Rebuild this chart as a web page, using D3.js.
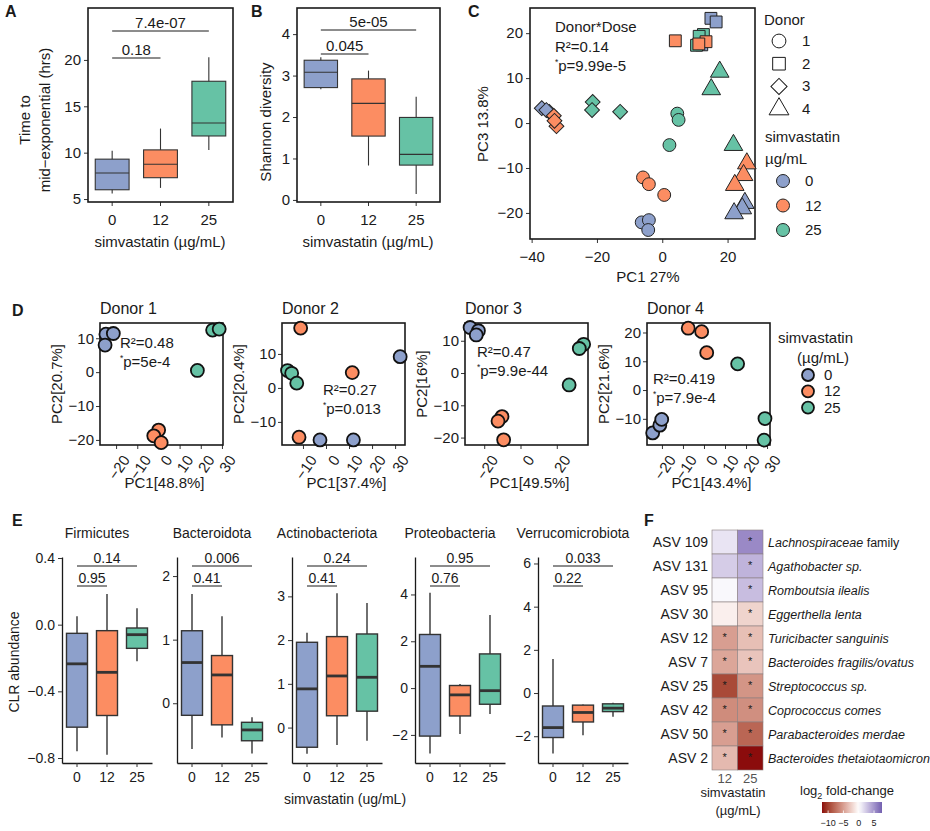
<!DOCTYPE html>
<html>
<head>
<meta charset="utf-8">
<script src="https://cdn.jsdelivr.net/npm/d3@7"></script>
<style>
    body { margin: 0; background: #fff; }
    svg text { font-family: "Liberation Sans", Arial, Helvetica, sans-serif; fill: #1a1a1a; }
</style>
</head>
<body>
<svg id="fig" width="930" height="831"></svg>
<script>
// ---------- data ----------
const doses = ['0', '12', '25'];
const doseColors = ['#8da0cb', '#fc8d62', '#66c2a5'];

// A: time to mid-exponential, [min, q1, median, q3, max] per dose
const midExpStats = [[5.6, 6.0, 7.8, 9.3, 10.2], [6.2, 7.3, 8.75, 10.3, 12.6], [10.3, 11.8, 13.2, 17.7, 20.3]];
const midExpTicks = [5, 10, 15, 20];
const midExpP = ['0.18', '7.4e-07'];

// B: Shannon diversity
const shannonStats = [[2.67, 2.71, 3.08, 3.37, 3.44], [0.83, 1.54, 2.33, 2.92, 3.12], [0.14, 0.84, 1.1, 1.99, 2.49]];
const shannonTicks = [0, 1, 2, 3, 4];
const shannonP = ['0.045', '5e-05'];

// C: PCA of all samples, [donor, dose index, PC1, PC3]
const pcaPoints = [
    [1, 0, -6.3, -22.1], [1, 0, -4.1, -21.6], [1, 0, -4.3, -23.8],
    [1, 1, -5.9, -12.1], [1, 1, -4.1, -13.6], [1, 1, 0.6, -16],
    [1, 2, 4.6, 2.1], [1, 2, 5, 0.7], [1, 2, 2.2, -4.9],
    [2, 0, 14.9, 23.3], [2, 0, 16.5, 22.5], [2, 0, 12.1, 17.4],
    [2, 2, 12.6, 19.7], [2, 2, 11.3, 19.3], [2, 2, 10.5, 17.3],
    [2, 1, 4.0, 18.3], [2, 1, 13.4, 18.1], [2, 1, 11.2, 17.6],
    [3, 0, -36.9, 3.3], [3, 0, -34.6, 2.5], [3, 0, -35.5, 2.9],
    [3, 1, -33.2, 1.6], [3, 1, -32.4, -0.7], [3, 1, -33, 0.5],
    [3, 2, -21.3, 4.7], [3, 2, -21.5, 2.9], [3, 2, -12.9, 2.5],
    [4, 0, 25.3, -17.8], [4, 0, 24.5, -19], [4, 0, 22, -20.1],
    [4, 1, 25.9, -9], [4, 1, 24.9, -11.6], [4, 1, 22.2, -13.8],
    [4, 2, 17.6, 11.4], [4, 2, 15, 7.5], [4, 2, 21.8, -4.9]
];
const pcaXTicks = [-40, -20, 0, 20];
const pcaYTicks = [-20, -10, 0, 10, 20];

// D: per-donor PCA, three samples per dose (0, 12, 25)
const donorDose = [0, 0, 0, 1, 1, 1, 2, 2, 2];
const donorPC1 = [
    [-24.8, -21.3, -25.2, 0.1, -2.2, 1.3, 25.6, 28.7, 18.4],
    [32.2, -2.6, 11.9, -11, 11.4, -11.7, -16.7, -14.9, -12.7],
    [-27.8, -23.2, -24.4, -10.2, -12.4, -9.3, 34.8, 32.4, 26.8],
    [-24.4, -21, -20.1, -7.5, -1.1, 1.3, 16, 29, 28.6]
];
const donorPC2 = [
    [11.2, 11.4, 8.0, -17.1, -18.8, -20.8, 12.4, 12.7, 0.5],
    [9.2, -15.3, -15.3, 17.6, 4.5, -14.5, 5.1, 4.3, 1.4],
    [14.1, 13.1, 11.8, -13.5, -14.9, -20.7, 8.9, 7.6, -3.7],
    [-14.9, -12.2, -10.2, 21.5, 20.3, 13.0, 9.1, -9.9, -17.4]
];
const donorXTicks = [[-20, -10, 0, 10, 20, 30], [-10, 0, 10, 20, 30], [-20, 0, 20], [-20, -10, 0, 10, 20, 30]];
const donorYTicks = [[-20, -10, 0, 10], [-10, 0, 10], [-20, -10, 0, 10], [-10, 0, 10, 20]];
const donorPC1Label = ['PC1[48.8%]', 'PC1[37.4%]', 'PC1[49.5%]', 'PC1[43.4%]'];
const donorPC2Label = ['PC2[20.7%]', 'PC2[20.4%]', 'PC2[16%]', 'PC2[21.6%]'];
const donorR2 = ['0.48', '0.27', '0.47', '0.419'];
const donorPval = ['5e-4', '0.013', '9.9e-44', '7.9e-4'];

// E: CLR abundance per phylum, [min, q1, median, q3, max] per dose
const phyla = ['Firmicutes', 'Bacteroidota', 'Actinobacteriota', 'Proteobacteria', 'Verrucomicrobiota'];
const clrStats = [
    [[-0.76, -0.615, -0.235, -0.052, 0.05], [-0.78, -0.545, -0.286, -0.036, 0.184], [-0.22, -0.142, -0.06, -0.02, 0.098]],
    [[-0.72, -0.19, 0.64, 1.14, 1.72], [-0.54, -0.34, 0.445, 0.75, 1.37], [-0.79, -0.59, -0.42, -0.3, -0.22]],
    [[-0.6, -0.45, 0.885, 1.95, 2.17], [-0.4, 0.27, 1.18, 2.08, 3.07], [-0.3, 0.375, 1.15, 2.14, 2.85]],
    [[-2.79, -2.05, 0.93, 2.29, 4.07], [-1.96, -1.19, -0.29, 0.11, 0.17], [-1.11, -0.69, -0.11, 1.46, 3.12]],
    [[-2.8, -2.06, -1.6, -0.6, 1.58], [-1.95, -1.34, -0.9, -0.56, -0.53], [-1.1, -0.86, -0.7, -0.5, -0.45]]
];
const clrTicks = [[-0.8, -0.4, 0, 0.4], [0, 1, 2], [0, 1, 2, 3], [-2, 0, 2, 4], [-2, 0, 2, 4, 6]];
const clrP = [['0.95', '0.14'], ['0.41', '0.006'], ['0.41', '0.24'], ['0.76', '0.95'], ['0.22', '0.033']];

// F: log2 fold-change heatmap
const asvIds = ['ASV 109', 'ASV 131', 'ASV 95', 'ASV 30', 'ASV 12', 'ASV 7', 'ASV 25', 'ASV 42', 'ASV 50', 'ASV 2'];
const asvTaxa = ['Lachnospiraceae', 'Agathobacter sp.', 'Romboutsia ilealis', 'Eggerthella lenta', 'Turicibacter sanguinis',
    'Bacteroides fragilis/ovatus', 'Streptococcus sp.', 'Coprococcus comes', 'Parabacteroides merdae', 'Bacteroides thetaiotaomicron'];
const asvTaxaSuffix = [' family', '', '', '', '', '', '', '', '', ''];
const lfcDoses = ['12', '25'];
const lfc12 = [1.2, 2.3, 0.3, -0.8, -5, -4.6, -9.5, -6, -5, -3.6];
const lfc25 = [5.5, 3.5, 3.0, -2.2, -3.3, -3, -5.5, -5.8, -8, -12];
const sig12 = [0, 0, 0, 0, 1, 1, 1, 1, 1, 1];
const sig25 = [1, 1, 1, 1, 1, 1, 1, 1, 1, 1];
const lfcTicks = [-10, -5, 0, 5];

// ---------- drawing ----------
const svg = d3.select('#fig');
const FONT = '"Liberation Sans", Arial, Helvetica, sans-serif';
const INK = '#1a1a1a';

function panelLabel(t, x, y) {
    svg.append('text').attr('x', x).attr('y', y).attr('font-size', 16).attr('font-weight', 'bold').text(t);
}

function styleAxis(g, fs) {
    g.attr('font-size', fs).attr('font-family', FONT).attr('color', INK);
    g.selectAll('text').style('fill', INK);
    g.selectAll('.tick line').attr('stroke', '#333');
}

function pText(g, x, y, fs, pval) {
    // "*p=..." with a small raised asterisk
    const t = g.append('text').attr('x', x).attr('y', y).attr('font-size', fs);
    t.append('tspan').attr('font-size', fs * 0.55).attr('dy', -fs * 0.4).text('*');
    t.append('tspan').attr('dy', fs * 0.4).text('p=' + pval);
}

// box plot panel used by A, B and E
function boxPanel(o) {
    const x = d3.scaleBand().domain(doses).range([o.x0, o.x1]);
    const y = d3.scaleLinear().domain(o.yDomain).range([o.y1, o.y0]);
    const cx = i => x(doses[i]) + x.bandwidth() / 2;
    const bw = x.bandwidth() * 0.7;
    const g = svg.append('g');

    // axes first so boxes sit on top
    const yAxis = d3.axisLeft(y).tickValues(o.ticks).tickSize(4).tickSizeOuter(0).tickPadding(3)
        .tickFormat(o.fmt || d3.format('d'));
    const yg = g.append('g').attr('transform', `translate(${o.x0},0)`).call(yAxis);
    const xg = g.append('g').attr('transform', `translate(0,${o.y1})`)
        .call(d3.axisBottom(x).tickSize(4).tickSizeOuter(0).tickPadding(o.xPad));
    styleAxis(yg, o.fs);
    styleAxis(xg, o.fs);
    if (o.frame) {
        yg.select('.domain').remove();
        xg.select('.domain').remove();
        g.append('rect').attr('x', o.x0).attr('y', o.y0).attr('width', o.x1 - o.x0).attr('height', o.y1 - o.y0)
            .attr('fill', 'none').attr('stroke', INK).attr('stroke-width', 1.6);
    } else {
        yg.select('.domain').attr('stroke', INK).attr('stroke-width', 1.3);
        xg.select('.domain').attr('stroke', INK).attr('stroke-width', 1.3);
    }

    g.selectAll('.whisker').data(o.stats).join('line')
        .attr('x1', (d, i) => cx(i)).attr('x2', (d, i) => cx(i))
        .attr('y1', d => y(d[0])).attr('y2', d => y(d[4]))
        .attr('stroke', '#333').attr('stroke-width', o.lw);
    g.selectAll('.box').data(o.stats).join('rect')
        .attr('x', (d, i) => cx(i) - bw / 2).attr('width', bw)
        .attr('y', d => y(d[3])).attr('height', d => y(d[1]) - y(d[3]))
        .attr('fill', (d, i) => doseColors[i]).attr('stroke', '#333').attr('stroke-width', o.lw);
    g.selectAll('.median').data(o.stats).join('line')
        .attr('x1', (d, i) => cx(i) - bw / 2).attr('x2', (d, i) => cx(i) + bw / 2)
        .attr('y1', d => y(d[2])).attr('y2', d => y(d[2]))
        .attr('stroke', '#333').attr('stroke-width', o.mw);

    // significance bars: first 0 vs 12, then 0 vs 25
    o.pvals.forEach((p, k) => {
        const ly = o.sigY[k];
        g.append('line').attr('x1', cx(0)).attr('x2', cx(k + 1)).attr('y1', ly).attr('y2', ly)
            .attr('stroke', INK).attr('stroke-width', 1);
        g.append('text').attr('x', (cx(0) + cx(k + 1)) / 2).attr('y', ly - 3)
            .attr('text-anchor', 'middle').attr('font-size', o.pfs).text(p);
    });
    return g;
}

// ----- A -----
panelLabel('A', 5, 17);
boxPanel({ x0: 88, x1: 233, y0: 8, y1: 202, yDomain: [4.68, 25.6], ticks: midExpTicks, stats: midExpStats,
    pvals: midExpP, sigY: [58, 31], frame: true, fs: 15, pfs: 15, lw: 1.1, mw: 1.1, xPad: 8 });
svg.append('text').attr('transform', 'translate(30,120) rotate(-90)').attr('text-anchor', 'middle')
    .attr('font-size', 15).text('Time to');
svg.append('text').attr('transform', 'translate(50,120) rotate(-90)').attr('text-anchor', 'middle')
    .attr('font-size', 15).text('mid\u2212exponential (hrs)');
svg.append('text').attr('x', 160).attr('y', 247).attr('text-anchor', 'middle').attr('font-size', 15)
    .text('simvastatin (\u00b5g/mL)');

// ----- B -----
panelLabel('B', 251, 17);
boxPanel({ x0: 297, x1: 440, y0: 8, y1: 202, yDomain: [-0.05, 4.63], ticks: shannonTicks, stats: shannonStats,
    pvals: shannonP, sigY: [54, 30], frame: true, fs: 15, pfs: 15, lw: 1.1, mw: 1.1, xPad: 8 });
svg.append('text').attr('transform', 'translate(271,122) rotate(-90)').attr('text-anchor', 'middle')
    .attr('font-size', 15).text('Shannon diversity');
svg.append('text').attr('x', 368).attr('y', 247).attr('text-anchor', 'middle').attr('font-size', 15)
    .text('simvastatin (\u00b5g/mL)');

// ----- C -----
panelLabel('C', 468, 17);
const shapeOf = { 1: d3.symbolCircle, 2: d3.symbolSquare, 3: d3.symbolSquare, 4: d3.symbolTriangle };
const sizeOf = { 1: 130, 2: 140, 3: 110, 4: 150 };
const rotOf = { 1: 0, 2: 0, 3: 45, 4: 0 };
(function drawPca() {
    const x0 = 530, x1 = 755, y0 = 8, y1 = 239;
    const x = d3.scaleLinear().domain([-40.5, 28.4]).range([x0, x1]);
    const y = d3.scaleLinear().domain([-25.8, 25.6]).range([y1, y0]);
    const g = svg.append('g');
    const xg = g.append('g').attr('transform', `translate(0,${y1})`)
        .call(d3.axisBottom(x).tickValues(pcaXTicks).tickSize(4).tickPadding(8));
    const yg = g.append('g').attr('transform', `translate(${x0},0)`)
        .call(d3.axisLeft(y).tickValues(pcaYTicks).tickSize(4).tickPadding(3));
    styleAxis(xg, 15); styleAxis(yg, 15);
    xg.select('.domain').remove(); yg.select('.domain').remove();
    g.append('rect').attr('x', x0).attr('y', y0).attr('width', x1 - x0).attr('height', y1 - y0)
        .attr('fill', 'none').attr('stroke', INK).attr('stroke-width', 1.6);

    g.selectAll('.pt').data(pcaPoints).join('path')
        .attr('d', d => d3.symbol().type(shapeOf[d[0]]).size(sizeOf[d[0]])())
        .attr('transform', d => `translate(${x(d[2])},${y(d[3])}) rotate(${rotOf[d[0]]})`)
        .attr('fill', d => doseColors[d[1]]).attr('stroke', '#222').attr('stroke-width', 1);

    g.append('text').attr('x', 555).attr('y', 32).attr('font-size', 15).text('Donor*Dose');
    g.append('text').attr('x', 555).attr('y', 52).attr('font-size', 15).text('R\u00b2=0.14');
    pText(g, 555, 71, 15, '9.99e-5');

    svg.append('text').attr('transform', 'translate(488,124) rotate(-90)').attr('text-anchor', 'middle')
        .attr('font-size', 15).text('PC3 13.8%');
    svg.append('text').attr('x', 648).attr('y', 282).attr('text-anchor', 'middle').attr('font-size', 15)
        .text('PC1 27%');

    // legends
    const lg = svg.append('g');
    lg.append('text').attr('x', 764).attr('y', 25).attr('font-size', 15).text('Donor');
    [1, 2, 3, 4].forEach((dn, i) => {
        const cy = 41 + i * 22.7;
        lg.append('path').attr('d', d3.symbol().type(shapeOf[dn]).size(sizeOf[dn] + 20)())
            .attr('transform', `translate(779,${cy}) rotate(${rotOf[dn]})`)
            .attr('fill', 'none').attr('stroke', INK).attr('stroke-width', 1);
        lg.append('text').attr('x', 802).attr('y', cy + 5).attr('font-size', 15).text(dn);
    });
    lg.append('text').attr('x', 765).attr('y', 142).attr('font-size', 15).text('simvastatin');
    lg.append('text').attr('x', 765).attr('y', 164).attr('font-size', 15).text('\u00b5g/mL');
    doses.forEach((dz, i) => {
        const cy = 181 + i * 24.5;
        lg.append('circle').attr('cx', 783).attr('cy', cy).attr('r', 6.5)
            .attr('fill', doseColors[i]).attr('stroke', '#222').attr('stroke-width', 1);
        lg.append('text').attr('x', 805).attr('y', cy + 5).attr('font-size', 15).text(dz);
    });
})();

// ----- D -----
panelLabel('D', 12, 316);
const donorBox = [
    { x0: 100, xDom: [-27.6, 30.5], yDom: [-21.5, 14.5], tx: 120, ty: 348 },
    { x0: 282, xDom: [-19.1, 34.3], yDom: [-16.8, 19.1], tx: 323, ty: 395 },
    { x0: 465, xDom: [-30.6, 37.2], yDom: [-22.3, 15.5], tx: 477, ty: 357 },
    { x0: 647, xDom: [-27.1, 31.4], yDom: [-19.1, 23.3], tx: 653, ty: 384 }
];
donorBox.forEach((b, k) => {
    const w = 123, y0 = 323, y1 = 445;
    const x = d3.scaleLinear().domain(b.xDom).range([b.x0, b.x0 + w]);
    const y = d3.scaleLinear().domain(b.yDom).range([y1, y0]);
    const g = svg.append('g');
    const xg = g.append('g').attr('transform', `translate(0,${y1})`)
        .call(d3.axisBottom(x).tickValues(donorXTicks[k]).tickSize(4).tickPadding(3));
    xg.selectAll('text').attr('text-anchor', 'end').attr('dy', '0.35em')
        .attr('transform', 'translate(4,8) rotate(-55)');
    const yg = g.append('g').attr('transform', `translate(${b.x0},0)`)
        .call(d3.axisLeft(y).tickValues(donorYTicks[k]).tickSize(4).tickPadding(2));
    styleAxis(xg, 15); styleAxis(yg, 15);
    xg.select('.domain').remove(); yg.select('.domain').remove();
    g.append('rect').attr('x', b.x0).attr('y', y0).attr('width', w).attr('height', y1 - y0)
        .attr('fill', 'none').attr('stroke', INK).attr('stroke-width', 1.6);

    g.selectAll('circle').data(donorPC1[k]).join('circle')
        .attr('cx', d => x(d)).attr('cy', (d, i) => y(donorPC2[k][i])).attr('r', 6.5)
        .attr('fill', (d, i) => doseColors[donorDose[i]]).attr('stroke', '#111').attr('stroke-width', 1.8);

    g.append('text').attr('x', b.tx).attr('y', b.ty).attr('font-size', 15).text('R\u00b2=' + donorR2[k]);
    pText(g, b.tx, b.ty + 19, 15, donorPval[k]);

    svg.append('text').attr('x', b.x0).attr('y', 314).attr('font-size', 16).text('Donor ' + (k + 1));
    svg.append('text').attr('transform', `translate(${b.x0 - 38},${(y0 + y1) / 2}) rotate(-90)`)
        .attr('text-anchor', 'middle').attr('font-size', 15).text(donorPC2Label[k]);
    svg.append('text').attr('x', b.x0 + w / 2 + 3).attr('y', 488).attr('text-anchor', 'middle')
        .attr('font-size', 15).text(donorPC1Label[k]);
});
(function donorLegend() {
    const lg = svg.append('g');
    lg.append('text').attr('x', 778).attr('y', 343).attr('font-size', 15).text('simvastatin');
    lg.append('text').attr('x', 823).attr('y', 363).attr('text-anchor', 'middle').attr('font-size', 15)
        .text('(\u00b5g/mL)');
    doses.forEach((dz, i) => {
        const cy = 375 + i * 16.3;
        lg.append('circle').attr('cx', 808).attr('cy', cy).attr('r', 6)
            .attr('fill', doseColors[i]).attr('stroke', '#111').attr('stroke-width', 1.8);
        lg.append('text').attr('x', 824).attr('y', cy + 5).attr('font-size', 15).text(dz);
    });
})();

// ----- E -----
panelLabel('E', 12, 526);
const phylumLeft = [62, 177, 292, 415, 538];
const phylumDomain = [[-0.83, 0.406], [-0.94, 2.3], [-0.81, 3.9], [-3.2, 5.6], [-3.24, 6.3]];
phyla.forEach((name, k) => {
    const x0 = phylumLeft[k];
    boxPanel({ x0: x0, x1: x0 + 90, y0: 557, y1: 763, yDomain: phylumDomain[k], ticks: clrTicks[k],
        stats: clrStats[k], pvals: clrP[k], sigY: [586, 566], frame: false, fs: 14, pfs: 14,
        lw: 1.4, mw: 2.8, xPad: 5, fmt: k === 0 ? d3.format('.1f') : d3.format('d') });
    svg.append('text').attr('x', x0 + 35).attr('y', 538).attr('text-anchor', 'middle')
        .attr('font-size', 14).text(name);
});
svg.append('text').attr('transform', 'translate(19,662) rotate(-90)').attr('text-anchor', 'middle')
    .attr('font-size', 14).text('CLR abundance');
svg.append('text').attr('x', 345).attr('y', 804).attr('text-anchor', 'middle').attr('font-size', 14)
    .text('simvastatin (ug/mL)');

// ----- F -----
panelLabel('F', 644, 526);
(function drawHeatmap() {
    const color = d3.scaleLinear().domain([-12, 0, 7.6]).range(['#8b0c0c', '#ffffff', '#7360b0'])
        .interpolate(d3.interpolateLab);
    const x = d3.scaleBand().domain(lfcDoses).range([712, 763]);
    const y = d3.scaleBand().domain(asvIds).range([530, 770]);
    const g = svg.append('g');
    const cells = [];
    asvIds.forEach((id, i) => {
        cells.push({ id: id, dose: '12', v: lfc12[i], s: sig12[i] });
        cells.push({ id: id, dose: '25', v: lfc25[i], s: sig25[i] });
    });
    g.selectAll('rect').data(cells).join('rect')
        .attr('x', d => x(d.dose)).attr('y', d => y(d.id))
        .attr('width', x.bandwidth()).attr('height', y.bandwidth())
        .attr('fill', d => color(d.v)).attr('stroke', '#8a7f7f').attr('stroke-width', 0.6);
    g.selectAll('.star').data(cells.filter(d => d.s)).join('text')
        .attr('x', d => x(d.dose) + x.bandwidth() / 2).attr('y', d => y(d.id) + 15)
        .attr('text-anchor', 'middle').attr('font-size', 11).text('*');

    g.selectAll('.asv').data(asvIds).join('text')
        .attr('x', 708).attr('y', d => y(d) + y.bandwidth() / 2 + 5)
        .attr('text-anchor', 'end').attr('font-size', 14).text(d => d);
    asvIds.forEach((id, i) => {
        const t = g.append('text').attr('x', 768).attr('y', y(id) + y.bandwidth() / 2 + 4.5)
            .attr('font-size', 12.5);
        t.append('tspan').attr('font-style', 'italic').text(asvTaxa[i]);
        if (asvTaxaSuffix[i]) t.append('tspan').text(asvTaxaSuffix[i]);
    });
    lfcDoses.forEach(dz => {
        g.append('text').attr('x', x(dz) + x.bandwidth() / 2).attr('y', 783).attr('text-anchor', 'middle')
            .attr('font-size', 13).style('fill', '#555').text(dz);
    });
    g.append('text').attr('x', 733).attr('y', 797).attr('text-anchor', 'middle').attr('font-size', 13)
        .text('simvastatin');
    g.append('text').attr('x', 738).attr('y', 815).attr('text-anchor', 'middle').attr('font-size', 13)
        .text('(\u00b5g/mL)');

    // colour bar legend
    const lx = d3.scaleLinear().domain([-12, 7.6]).range([822, 882]);
    const grad = svg.append('defs').append('linearGradient').attr('id', 'lfcGrad');
    d3.range(0, 1.0001, 0.05).forEach(t => {
        grad.append('stop').attr('offset', t).attr('stop-color', color(lx.invert(822 + t * 60)));
    });
    const t = g.append('text').attr('x', 800).attr('y', 795).attr('font-size', 13);
    t.append('tspan').text('log');
    t.append('tspan').attr('font-size', 9).attr('dy', 4).text('2');
    t.append('tspan').attr('dy', -4).text(' fold-change');
    g.append('rect').attr('x', 822).attr('y', 802).attr('width', 60).attr('height', 11).attr('fill', 'url(#lfcGrad)');
    g.selectAll('.ltick').data(lfcTicks).join('line')
        .attr('x1', d => lx(d)).attr('x2', d => lx(d)).attr('y1', 810.5).attr('y2', 813)
        .attr('stroke', '#fff').attr('stroke-width', 0.8);
    g.selectAll('.llab').data(lfcTicks).join('text')
        .attr('x', d => lx(d)).attr('y', 826).attr('text-anchor', 'middle').attr('font-size', 9)
        .text(d => d3.format('d')(d));
})();
</script>
</body>
</html>
